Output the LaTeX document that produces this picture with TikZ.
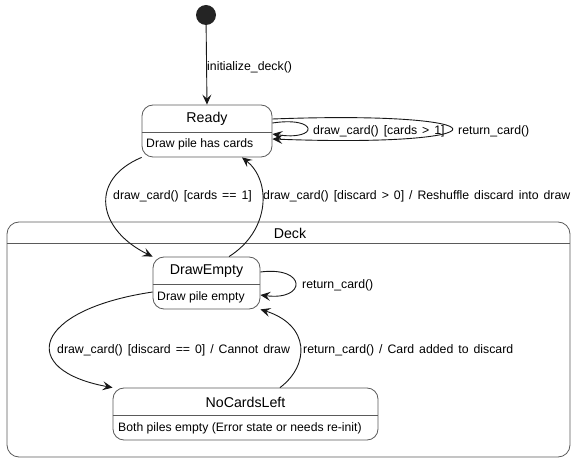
\documentclass[tikz,border=0pt]{standalone}
\usepackage{fontspec}
\setmainfont{Liberation Sans}
\newfontfamily\lblfont[WordSpace=1.45]{Liberation Sans}
\usetikzlibrary{arrows.meta}
\definecolor{linecol}{HTML}{181818}
\definecolor{framecol}{HTML}{5A5A5A}
\begin{document}
\begin{tikzpicture}[x=1pt,y=-1pt,
    state/.style={draw=framecol,line width=0.8pt,fill=white,rounded corners=11pt,inner sep=0pt},
    trans/.style={draw=linecol,line width=0.9pt,-{Stealth[length=10pt,width=9pt,inset=4pt]}},
    lbl/.style={anchor=west,inner sep=0pt,font=\lblfont\fontsize{12.3}{14}\selectfont},
    statename/.style={inner sep=0pt,font=\fontsize{14.2}{16}\selectfont},
    body/.style={anchor=west,inner sep=0pt,font=\fontsize{12.2}{14}\selectfont}]
  \useasboundingbox (0,0) rectangle (579,462);
  % composite state
  \node [state, rounded corners=12pt, minimum width=563pt, minimum height=235pt] (deck) at (288.5,339.5) {};
  \draw [framecol, line width=0.8pt] (deck.west |- 0,243) -- (deck.east |- 0,243);
  \node [statename] (decktitle) at (290,233) {Deck};
  % initial state
  \node [circle, fill=linecol!95, inner sep=0pt, minimum size=20pt] (start) at (206,15) {};
  % states
  \node [state, minimum width=130pt, minimum height=52pt] (ready) at (207,131) {};
  \draw [framecol, line width=0.8pt] (ready.west |- 0,132) -- (ready.east |- 0,132);
  \node [statename] (readytitle) at (207,119) {Ready};
  \node [body] (readybody) at (146,144) {Draw pile has cards};
  \node [state, minimum width=107pt, minimum height=52pt] (drawempty) at (206.5,283) {};
  \draw [framecol, line width=0.8pt] (drawempty.west |- 0,284) -- (drawempty.east |- 0,284);
  \node [statename] (drawemptytitle) at (206.5,271) {DrawEmpty};
  \node [body] (drawemptybody) at (157,297) {Draw pile empty};
  \node [state, minimum width=265pt, minimum height=52pt] (nocards) at (245.5,414) {};
  \draw [framecol, line width=0.8pt] (nocards.west |- 0,415) -- (nocards.east |- 0,415);
  \node [statename] (nocardstitle) at (245.5,402) {NoCardsLeft};
  \node [body] (nocardsbody) at (118,428) {Both piles empty (Error state or needs re-init)};
  % transitions
  \draw [trans] (start) -- (ready.north);
  \node [lbl] (l1) at (207,67) {initialize\_deck()};
  \draw [trans] (ready.east |- 0,123) .. controls (319,116) and (319,141) .. (ready.east |- 0,134);
  \node [lbl] (l2) at (313,131) {draw\_card() [cards > 1]};
  \draw [trans] (ready.east |- 0,119) .. controls (512,110) and (512,148) .. (ready.east |- 0,139);
  \node [lbl] (l3) at (458,131) {return\_card()};
  \draw [trans] (ready.south west) .. controls (88,180) and (98,230) .. (drawempty.north west);
  \node [lbl] (l4) at (113,196) {draw\_card() [cards == 1]};
  \draw [trans] (drawempty.north -| 229,0) .. controls (271,230) and (271,180) .. (ready.south -| 242,0);
  \node [lbl] (l5) at (263,196) {draw\_card() [discard > 0] / Reshuffle discard into draw};
  \draw [trans] (drawempty.east |- 0,272) .. controls (307,266) and (307,301) .. (drawempty.east |- 0,295);
  \node [lbl] (l6) at (302,285) {return\_card()};
  \draw [trans] (drawempty.west |- 0,292) .. controls (32,310) and (17,370) .. (nocards.north west);
  \node [lbl] (l7) at (57,350) {draw\_card() [discard == 0] / Cannot draw};
  \draw [trans] (nocards.north -| 280,0) .. controls (310,365) and (310,325) .. (drawempty.south east);
  \node [lbl] (l8) at (303,350) {return\_card() / Card added to discard};
\end{tikzpicture}
\end{document}
